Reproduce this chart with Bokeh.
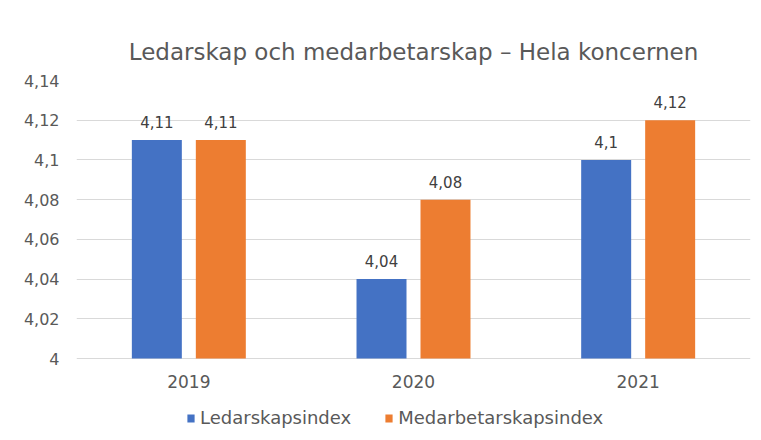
from bokeh.plotting import figure
from bokeh.models import (ColumnDataSource, FactorRange, Range1d, FixedTicker,
                          LabelSet, Legend, LegendItem)
from bokeh.core.properties import value
from bokeh.transform import dodge
from bokeh.embed import file_html
from bokeh.resources import INLINE

years = ["2019", "2020", "2021"]
ledarskap = [4.11, 4.04, 4.10]
medarbetarskap = [4.11, 4.08, 4.12]
series_names = ["Ledarskapsindex", "Medarbetarskapsindex"]
y_ticks = [4.00, 4.02, 4.04, 4.06, 4.08, 4.10, 4.12, 4.14]
y_tick_labels = ["4", "4,02", "4,04", "4,06", "4,08", "4,1", "4,12", "4,14"]
title_text = "Ledarskap och medarbetarskap – Hela koncernen"
y_min, y_max = 4.0, 4.14

def fmt(v):
    s = ("%.2f" % v).rstrip("0").rstrip(".")
    return s.replace(".", ",")

src = ColumnDataSource(dict(
    years=years,
    led=ledarskap,
    med=medarbetarskap,
    base=[y_min] * len(years),
    led_lbl=[fmt(v) for v in ledarskap],
    med_lbl=[fmt(v) for v in medarbetarskap],
))

FONT = "DejaVu Sans"
GRAY = "#595959"
BLUE = "#4472C4"
ORANGE = "#ED7D31"

# value axis occupies the top 278 px of a 360 px frame; the rest holds year labels + legend
PLOT_H = 278
FRAME_H = 360
y_start = y_max - (y_max - y_min) * FRAME_H / PLOT_H

p = figure(frame_width=674, frame_height=FRAME_H, x_range=FactorRange(*years, range_padding=0),
           y_range=Range1d(y_start, y_max), output_backend="svg", toolbar_location=None,
           min_border_left=76, min_border_right=11, min_border_top=80, min_border_bottom=0)

p.title.text = title_text
p.title.align = "center"
p.title.text_font = FONT
p.title.text_font_size = "23px"
p.title.text_font_style = "normal"
p.title.text_color = GRAY
p.title.standoff = 31

bw = 0.2225
off = 0.1424
r1 = p.vbar(x=dodge("years", -off, range=p.x_range), top="led", bottom=y_min, width=bw,
            source=src, fill_color=BLUE, line_color=None)
r2 = p.vbar(x=dodge("years", off, range=p.x_range), top="med", bottom=y_min, width=bw,
            source=src, fill_color=ORANGE, line_color=None)

for col, lbl, o in (("led", "led_lbl", -off), ("med", "med_lbl", off)):
    ls = LabelSet(x=dodge("years", o, range=p.x_range), y=col, text=lbl, source=src,
                  text_align="center", text_baseline="alphabetic", y_offset=12,
                  text_font=value(FONT), text_font_size="15px", text_color="#404040")
    p.add_layout(ls)

# category (year) labels under the baseline
yl = LabelSet(x="years", y="base", text="years", source=src,
              text_align="center", text_baseline="middle", y_offset=-23,
              text_font=value(FONT), text_font_size="17px", text_color=GRAY)
p.add_layout(yl)

p.yaxis.ticker = FixedTicker(ticks=y_ticks)
p.yaxis.major_label_overrides = {t: l for t, l in zip(y_ticks, y_tick_labels)}
p.yaxis.axis_line_color = None
p.yaxis.major_tick_line_color = None
p.yaxis.minor_tick_line_color = None
p.yaxis.major_label_standoff = 11
p.yaxis.major_label_text_font = FONT
p.yaxis.major_label_text_font_size = "16px"
p.yaxis.major_label_text_color = GRAY

p.xaxis.visible = False

p.xgrid.grid_line_color = None
p.ygrid.grid_line_color = "#d9d9d9"
p.ygrid.ticker = FixedTicker(ticks=y_ticks)
p.outline_line_color = None

legend = Legend(items=[LegendItem(label=series_names[0], renderers=[r1]),
                       LegendItem(label=series_names[1], renderers=[r2])],
                orientation="horizontal", location=(110, 12),
                label_text_font=FONT, label_text_font_size="18px", label_text_color=GRAY,
                glyph_width=9, glyph_height=10, spacing=33, label_standoff=5,
                border_line_color=None, background_fill_alpha=0, margin=0, padding=2)
p.add_layout(legend, "center")

open("out.html", "w").write(file_html(p, INLINE))
